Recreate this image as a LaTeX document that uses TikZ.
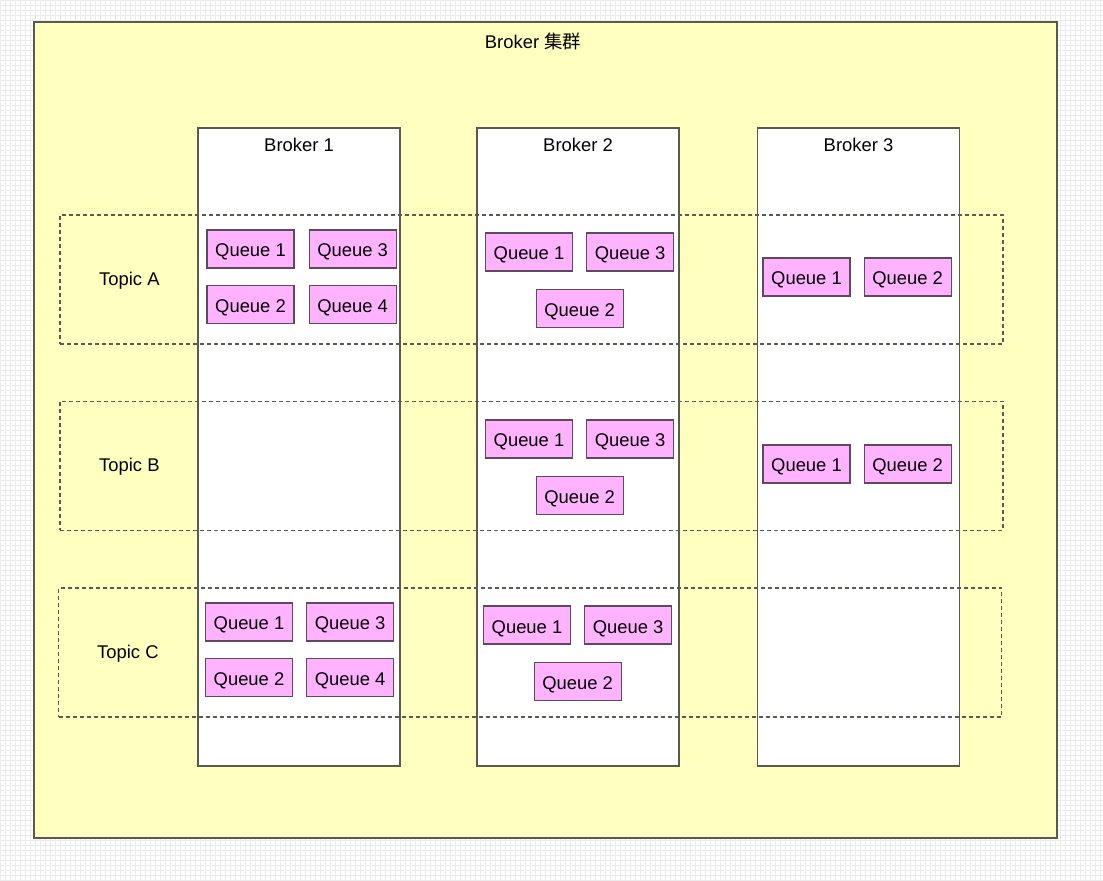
\documentclass[tikz,border=0pt]{standalone}
\usepackage{fontspec}
\setmainfont{Liberation Sans}
\newfontfamily\cjk{Noto Sans CJK SC}
\usepackage{tikz}
\usetikzlibrary{positioning, calc}
\definecolor{clusterfill}{HTML}{FFFFC0}
\definecolor{queuefill}{HTML}{FFB3FF}
\definecolor{edgegray}{HTML}{5A5A50}
\definecolor{queueedge}{HTML}{5E4A5E}
\tikzstyle{cluster} = [rectangle, draw=edgegray, fill=clusterfill, line width=0.7pt, inner sep=0pt]
\tikzstyle{broker} = [rectangle, draw=edgegray, fill=white, line width=0.7pt, inner sep=0pt, minimum width=101pt, minimum height=319pt]
\tikzstyle{topic} = [rectangle, draw=edgegray, dash pattern=on 2pt off 1.5pt, line width=0.6pt, inner sep=0pt, minimum width=471.5pt, minimum height=64.5pt]
\tikzstyle{queue} = [rectangle, draw=queueedge, fill=queuefill, line width=0.6pt, inner sep=0pt, minimum width=43.5pt, minimum height=19pt, text height=0.8em, text depth=0pt, font=\fontsize{9.2}{11}\selectfont]
\tikzstyle{lbl} = [inner sep=0pt, font=\fontsize{9.2}{11}\selectfont]
\tikzstyle{gridline} = [draw=black!8, line width=0.25pt]

\begin{document}
\begin{tikzpicture}[x=0.5pt, y=-0.5pt]
    \useasboundingbox (0,0) rectangle (1103,881);
    \foreach \gx in {0,5,...,1100} {\draw [gridline] (\gx,0) -- (\gx,881);}
    \foreach \gy in {0,5,...,880} {\draw [gridline] (0,\gy) -- (1103,\gy);}
    % cluster
    \node (cl) [cluster, minimum width=511.5pt, minimum height=408pt] at (545.5,430) {};
    \node (clt) [lbl] at ($(cl.north)+(-12.5,20)$) {Broker {\cjk 集群}};
    % brokers
    \node (b1) [broker] at (299,447) {};
    \node (b2) [broker] at (578,447) {};
    \node (b3) [broker] at (858.5,447) {};
    \node (b1t) [lbl, below=5pt of b1.north] {Broker 1};
    \node (b2t) [lbl, below=5pt of b2.north] {Broker 2};
    \node (b3t) [lbl, below=5pt of b3.north] {Broker 3};
    % topics
    \node (ta) [topic] at (531.5,279.5) {};
    \node (tb) [topic] at (531.5,466) {};
    \node (tc) [topic] at (530,652.5) {};
    \node (tat) [lbl] at ($(ta.west)+(70,1)$) {Topic A};
    \node (tbt) [lbl] at ($(tb.west)+(70,1)$) {Topic B};
    \node (tct) [lbl] at ($(tc.west)+(70,1)$) {Topic C};
    % topic A
    \node (a11) [queue] at (250.5,249) {Queue 1};
    \node (a13) [queue, right=7pt of a11] {Queue 3};
    \node (a12) [queue, below=8pt of a11] {Queue 2};
    \node (a14) [queue, below=8pt of a13] {Queue 4};
    \node (a21) [queue] at (529,252) {Queue 1};
    \node (a23) [queue, right=6.5pt of a21] {Queue 3};
    \node (a22) [queue, anchor=north] at ($($(a21.south)!0.5!(a23.south)$)+(0,17)$) {Queue 2};
    \node (a31) [queue] at (806.5,277) {Queue 1};
    \node (a32) [queue, right=6.5pt of a31] {Queue 2};
    % topic B
    \node (b21) [queue] at (529,439) {Queue 1};
    \node (b23) [queue, right=6.5pt of b21] {Queue 3};
    \node (b22) [queue, anchor=north] at ($($(b21.south)!0.5!(b23.south)$)+(0,17)$) {Queue 2};
    \node (b31) [queue] at (806.5,464) {Queue 1};
    \node (b32) [queue, right=6.5pt of b31] {Queue 2};
    % topic C
    \node (c11) [queue] at (249,622) {Queue 1};
    \node (c13) [queue, right=6.5pt of c11] {Queue 3};
    \node (c12) [queue, below=8pt of c11] {Queue 2};
    \node (c14) [queue, below=8pt of c13] {Queue 4};
    \node (c21) [queue] at (527,625) {Queue 1};
    \node (c23) [queue, right=6.5pt of c21] {Queue 3};
    \node (c22) [queue, anchor=north] at ($($(c21.south)!0.5!(c23.south)$)+(0,17)$) {Queue 2};
\end{tikzpicture}
\end{document}
